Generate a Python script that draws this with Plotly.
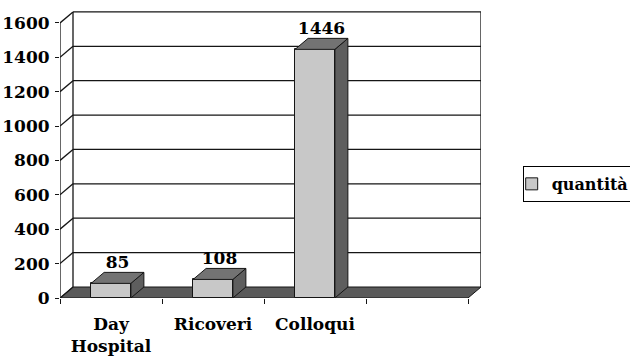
import plotly.graph_objects as go

# Chart data
categories = ["Day<br>Hospital", "Ricoveri", "Colloqui", ""]
values = [85, 108, 1446]
series_name = "quantità"
y_ticks = [0, 200, 400, 600, 800, 1000, 1200, 1400, 1600]

# Pseudo-3D geometry (depth shift in axis units)
DX = 0.1275
DY = 64
HALF_W = 0.195
X0, X1 = -0.5, len(categories) - 0.5
FONT = "'DejaVu Serif', serif"
EDGE = "#151515"
BOLD = dict(family=FONT, size=17, color="black", weight="bold")
LEGEND_FONT = dict(family=FONT, size=16, color="black", weight="bold")

positions = list(range(len(values)))

fig = go.Figure()

# Front faces of the bars
fig.add_trace(go.Bar(
    x=positions, y=values, width=2 * HALF_W, name=series_name,
    marker=dict(color="#c8c8c8", line=dict(color=EDGE, width=1)),
    hoverinfo="x+y",
))

# Side and top faces, derived from the same values
side_x, side_y, top_x, top_y = [], [], [], []
for p, v in zip(positions, values):
    l, r = p - HALF_W, p + HALF_W
    side_x += [r, r + DX, r + DX, r, r, None]
    side_y += [0, DY, v + DY, v, 0, None]
    top_x += [l, r, r + DX, l + DX, l, None]
    top_y += [v, v, v + DY, v + DY, v, None]

fig.add_trace(go.Scatter(
    x=side_x, y=side_y, mode="lines", fill="toself", fillcolor="#5e5e5e",
    line=dict(color=EDGE, width=1), showlegend=False, hoverinfo="skip",
))
fig.add_trace(go.Scatter(
    x=top_x, y=top_y, mode="lines", fill="toself", fillcolor="#737373",
    line=dict(color=EDGE, width=1), showlegend=False, hoverinfo="skip",
))

# Value labels above each bar
fig.add_trace(go.Scatter(
    x=[p + DX / 2 for p in positions], y=[v + DY for v in values],
    mode="text", text=[str(v) for v in values], textposition="top center",
    textfont=BOLD, showlegend=False, hoverinfo="skip", cliponaxis=False,
))

# Floor
floor_path = (f"M {X0} 0 L {X1} 0 L {X1 + DX} {DY} "
              f"L {X0 + DX} {DY} Z")
fig.add_shape(type="path", path=floor_path, fillcolor="#5a5a5a",
              line=dict(color=EDGE, width=1), layer="below")

# Walls: side-wall diagonals, back-wall gridlines and edges
line_style = dict(color=EDGE, width=1.3)
for t in y_ticks:
    fig.add_shape(type="line", x0=X0, y0=t, x1=X0 + DX, y1=t + DY,
                  line=line_style, layer="below")
    if t > 0:
        fig.add_shape(type="line", x0=X0 + DX, y0=t + DY, x1=X1 + DX,
                      y1=t + DY, line=line_style, layer="below")
top = y_ticks[-1]
fig.add_shape(type="line", x0=X0, y0=0, x1=X0, y1=top,
              line=line_style, layer="below")
fig.add_shape(type="line", x0=X0 + DX, y0=DY, x1=X0 + DX, y1=top + DY,
              line=line_style, layer="below")
fig.add_shape(type="line", x0=X1 + DX, y0=DY, x1=X1 + DX, y1=top + DY,
              line=line_style, layer="below")

fig.update_layout(
    width=630, height=362,
    margin=dict(l=60, r=149, t=10, b=64, autoexpand=False),
    paper_bgcolor="white", plot_bgcolor="white",
    font=dict(family=FONT, size=17, color="black"),
    showlegend=True,
    legend=dict(
        x=1.099, y=0.396, xanchor="left", yanchor="middle",
        bordercolor="black", borderwidth=1, bgcolor="white",
        font=LEGEND_FONT, itemwidth=30, indentation=-12,
    ),
    bargap=0,
)
fig.update_xaxes(
    range=[X0, X1 + DX], tickmode="array",
    tickvals=list(range(len(categories))), ticktext=categories,
    ticks="", showgrid=False, zeroline=False, showline=False,
    tickfont=BOLD, ticklabelstandoff=14,
    minor=dict(tickmode="array",
               tickvals=[i - 0.5 for i in range(len(categories) + 1)],
               ticks="outside", ticklen=5, tickwidth=1, tickcolor=EDGE),
    fixedrange=True,
)
fig.update_yaxes(
    range=[0, 1675], tickmode="array", tickvals=y_ticks,
    ticks="outside", ticklen=4, tickwidth=1.3, tickcolor=EDGE,
    showgrid=False, zeroline=False, showline=False,
    tickfont=BOLD, ticklabelstandoff=2,
    fixedrange=True,
)

fig.write_html("out.html")
